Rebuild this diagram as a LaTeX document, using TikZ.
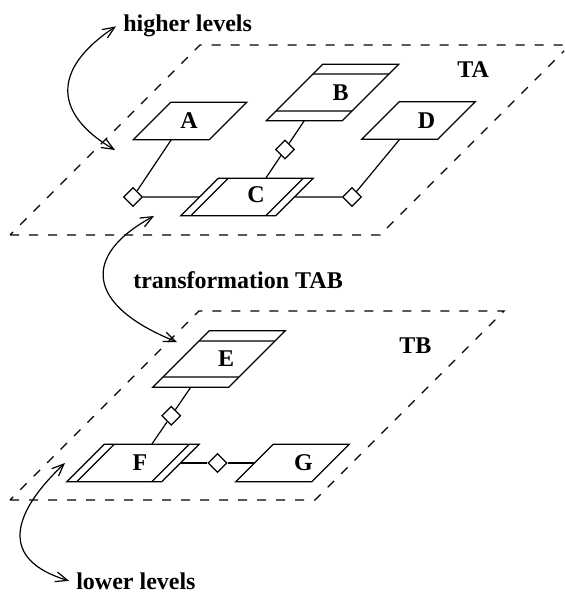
\documentclass[tikz,border=0pt]{standalone}
\usepackage{fontspec}
\setmainfont{Liberation Serif}
\usetikzlibrary{shapes.geometric,arrows.meta,calc}
\begin{document}
\begin{tikzpicture}[x=0.5pt,y=-0.5pt,line width=0.6pt,font=\bfseries\fontsize{12}{14}\selectfont]
        \tikzset{
            entity/.style={trapezium,trapezium left angle=45,trapezium right angle=135,
                trapezium stretches body,draw,inner xsep=0pt,inner ysep=9.375pt,outer sep=0pt,
                minimum width=56.75pt,minimum height=0pt},
            weak/.style={entity,minimum width=66.25pt,inner ysep=14.125pt,
                path picture={
                    \draw[stripe] ([yshift=-5pt]path picture bounding box.north west) -- ([yshift=-5pt]path picture bounding box.north east);
                    \draw[stripe] ([yshift=5pt]path picture bounding box.south west) -- ([yshift=5pt]path picture bounding box.south east);}},
            assoc/.style={entity,minimum width=66.25pt,
                path picture={
                    \draw ([xshift=23.75pt]path picture bounding box.north west) -- ([xshift=5pt]path picture bounding box.south west);
                    \draw ([xshift=-5pt]path picture bounding box.north east) -- ([xshift=-23.75pt]path picture bounding box.south east);}},
            stripe/.style={draw=black!65,line width=0.9pt},
            link/.style={diamond,draw,inner sep=0pt,minimum size=9.5pt},
            level/.style={dash pattern=on 4.5pt off 5pt},
            tag/.style={anchor=base west},
            hop/.style={{Straight Barb[length=6pt,width=5pt]}-{Straight Barb[length=6pt,width=5pt]}},
        }
        \clip (0,0) rectangle (564,592);

        \draw[level] (10,235) -- (380,235) -- (570,45) -- (200,45) -- cycle;
        \draw[level] (10,500) -- (315,500) -- (504,311) -- (199,311) -- cycle;

        \node[entity,label={[xshift=-0.5pt]center:A}] (A) at (190,121) {};
        \node[weak,label={[xshift=4pt]center:B}] (B) at (332.5,92.5) {};
        \node[assoc,label={[xshift=4.5pt,yshift=1pt]center:C}] (C) at (247,197) {};
        \node[entity,label={[xshift=4pt]center:D}] (D) at (418.5,120.5) {};
        \node[weak,label={[xshift=3.5pt]center:E}] (E) at (219,359) {};
        \node[assoc,label={[xshift=3.5pt]center:F}] (F) at (133,463) {};
        \node[entity,label={[xshift=5.5pt]center:G}] (G) at (292.5,463) {};

        \node[link] (dA) at (133,197) {};
        \node[link] (dD) at (352,197) {};
        \node[link] (dB) at ($(B.225)!0.5!(C.45)$) {};
        \node[link] (dE) at ($(E.225)!0.5!(F.45)$) {};
        \node[link] (dG) at ($(F.east)!0.5!(G.west)$) {};

        \draw (A.225) -- (dA) -- (C.west);
        \draw (D.225) -- (dD) -- (C.east);
        \draw (B.225) -- (dB) -- (C.45);
        \draw (E.225) -- (dE) -- (F.45);
        \draw (F.east) -- (dG) -- (G.west);

        \node[tag] (hi) at (116,32) {higher levels};
        \node[tag] (ta) at (450,78) {TA};
        \node[tag] (tab) at (126,288) {transformation TAB};
        \node[tag] (tb) at (392,353) {TB};
        \node[tag] (lo) at (69,589) {lower levels};

        \coordinate (hiend) at (115,150);
        \coordinate (tabtop) at (154,216);
        \coordinate (tabbot) at (177,342);
        \coordinate (loend) at (65,463);
        \draw[hop] (hi.west) .. controls (50,70) and (55,115) .. (hiend);
        \draw[hop] (tabtop) .. controls (82,255) and (85,305) .. (tabbot);
        \draw[hop] (loend) .. controls (10,515) and (0,560) .. (lo.west);
\end{tikzpicture}
\end{document}
